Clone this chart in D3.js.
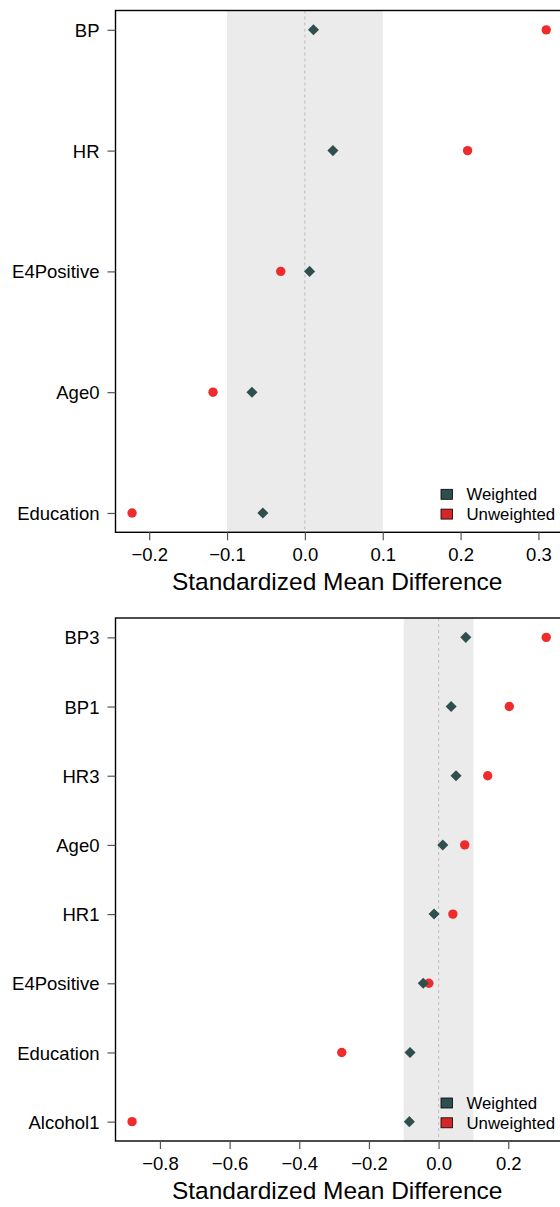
<!DOCTYPE html>
<html>
<head>
<meta charset="utf-8">
<script src="https://cdn.jsdelivr.net/npm/d3@7"></script>
<style>
  html, body { margin: 0; padding: 0; background: #fff; }
  svg { display: block; }
  text { font-family: "Liberation Sans", Arial, Helvetica, sans-serif; fill: #000; }
</style>
</head>
<body>
<svg id="chart" width="560" height="1207"></svg>
<script>
// Balance diagnostics: standardized mean differences before and after weighting.

// Panel 1 covariates (top to bottom)
const covariatesA = ["BP", "HR", "E4Positive", "Age0", "Education"];
const weightedA   = [0.011, 0.036, 0.006, -0.068, -0.054];
const unweightedA = [0.310, 0.209, -0.031, -0.118, -0.222];
const ticksA      = [-0.2, -0.1, 0.0, 0.1, 0.2, 0.3];

// Panel 2 covariates (top to bottom)
const covariatesB = ["BP3", "BP1", "HR3", "Age0", "HR1", "E4Positive", "Education", "Alcohol1"];
const weightedB   = [0.078, 0.036, 0.050, 0.012, -0.013, -0.044, -0.082, -0.084];
const unweightedB = [0.309, 0.203, 0.141, 0.075, 0.041, -0.028, -0.278, -0.880];
const ticksB      = [-0.8, -0.6, -0.4, -0.2, 0.0, 0.2];

// Balance threshold band and legend entries
const threshold = [-0.1, 0.1];
const legendLabels = ["Weighted", "Unweighted"];

const COL_W = "#2f4f4f";
const COL_U = "#ef2b2b";
const COL_U_KEY = "#d42727";

const svg = d3.select("#chart");
const left = 115.5, right = 562.8;
const fmt = v => (v < 0 ? "\u2212" : "") + Math.abs(v).toFixed(1);

function panel(top, bottom, names, wv, uv, ticks) {
  const g = svg.append("g");
  const n = names.length;
  const lo = d3.min(uv.concat(wv)), hi = d3.max(uv.concat(wv));
  const pad = (hi - lo) * 0.04;
  const x = d3.scaleLinear().domain([lo - pad, hi + pad]).range([left, right]);
  const ypad = (n - 1) * 0.04;
  const y = d3.scaleLinear().domain([-ypad, n - 1 + ypad]).range([top, bottom]);

  // clip region for the plotting box
  const cid = "clip" + Math.round(top);
  g.append("clipPath").attr("id", cid).append("rect")
    .attr("x", left).attr("y", top).attr("width", right - left).attr("height", bottom - top);
  const inner = g.append("g").attr("clip-path", `url(#${cid})`);

  // threshold band
  inner.append("rect")
    .attr("x", x(threshold[0])).attr("y", top)
    .attr("width", x(threshold[1]) - x(threshold[0])).attr("height", bottom - top)
    .attr("fill", "#ebebeb");
  // zero reference
  inner.append("line")
    .attr("x1", x(0)).attr("x2", x(0)).attr("y1", top).attr("y2", bottom)
    .attr("stroke", "#c4c4c4").attr("stroke-width", 1.2).attr("stroke-dasharray", "3,3");

  // unweighted points
  inner.selectAll("circle.u").data(uv).join("circle")
    .attr("cx", d => x(d)).attr("cy", (d, i) => y(i)).attr("r", 4.7)
    .attr("fill", COL_U);
  // weighted points (diamonds)
  const diamond = d3.symbol().type(d3.symbolDiamond2).size(78);
  inner.selectAll("path.w").data(wv).join("path")
    .attr("transform", (d, i) => `translate(${x(d)},${y(i)})`)
    .attr("d", diamond).attr("fill", COL_W);

  // box
  g.append("rect")
    .attr("x", left).attr("y", top).attr("width", right - left + 4).attr("height", bottom - top)
    .attr("fill", "none").attr("stroke", "#000").attr("stroke-width", 1.4);

  // x axis
  const xa = g.append("g").attr("transform", `translate(0,${bottom})`)
    .call(d3.axisBottom(x).tickValues(ticks).tickFormat(fmt).tickSize(8).tickSizeOuter(0));
  xa.select(".domain").remove();
  xa.selectAll(".tick line").attr("stroke", "#555").attr("stroke-width", 1.2);
  xa.selectAll(".tick text").attr("y", 0).attr("dy", 28.9)
    .attr("font-size", 18.5).attr("font-family", null).attr("fill", "#000");

  // y axis
  const ya = g.append("g").attr("transform", `translate(${left},0)`)
    .call(d3.axisLeft(y).tickValues(d3.range(n)).tickFormat(i => names[i]).tickSize(8).tickSizeOuter(0));
  ya.select(".domain").remove();
  ya.selectAll(".tick line").attr("stroke", "#555").attr("stroke-width", 1.2);
  ya.selectAll(".tick text").attr("x", -16).attr("dy", "0.355em")
    .attr("font-size", 18.5).attr("font-family", null).attr("fill", "#000");

  // axis title
  g.append("text")
    .attr("x", (left + right) / 2 - 2).attr("y", bottom + 57.8)
    .attr("text-anchor", "middle").attr("font-size", 24.5)
    .text("Standardized Mean Difference");

  // legend
  const keyCols = [COL_W, COL_U_KEY];
  const lg = g.append("g");
  legendLabels.forEach((lab, i) => {
    const cy = bottom - 38 + i * 19.8;
    lg.append("rect").attr("x", 441).attr("y", cy - 5).attr("width", 11.5).attr("height", 10)
      .attr("fill", keyCols[i]).attr("stroke", "#000").attr("stroke-width", 0.8);
    lg.append("text").attr("x", 466.5).attr("y", cy).attr("dy", "0.36em")
      .attr("font-size", 16.8).text(lab);
  });
}

panel(10.5, 532.3, covariatesA, weightedA, unweightedA, ticksA);
panel(618, 1141, covariatesB, weightedB, unweightedB, ticksB);
</script>
</body>
</html>
